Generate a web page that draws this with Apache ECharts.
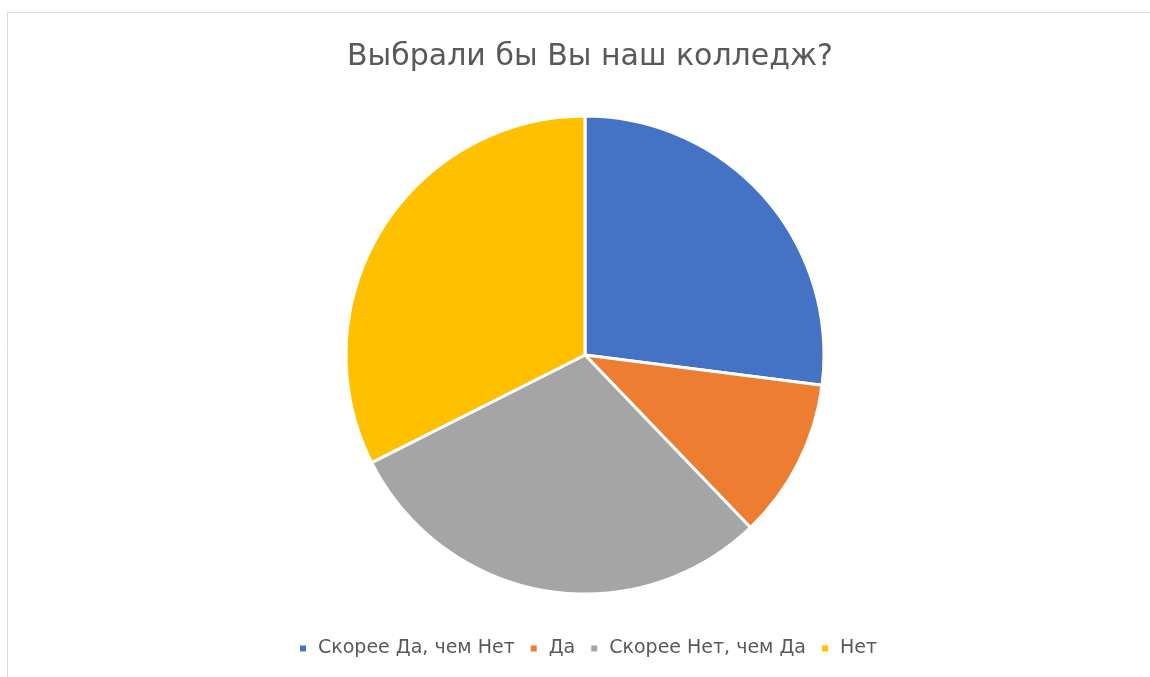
<!DOCTYPE html>
<html><head><meta charset="utf-8">
<script src="https://cdn.jsdelivr.net/npm/echarts@6/dist/echarts.min.js"></script>
<style>html,body{margin:0;padding:0;background:#fff}#c{width:1150px;height:677px}</style>
</head><body><div id="c"></div>
<script>
const categories = ['Скорее Да, чем Нет', 'Да', 'Скорее Нет, чем Да', 'Нет'];
const values = [10, 4, 11, 12];
const colors = ['#4472C4', '#ED7D31', '#A5A5A5', '#FFC000'];
const titleText = 'Выбрали бы Вы наш колледж?';

const chart = echarts.init(document.getElementById('c'));
chart.setOption({
  backgroundColor: '#fff',
  animation: false,
  graphic: [{
    type: 'rect', shape: {x: 7.5, y: 12.5, width: 1160, height: 700},
    style: {fill: 'none', stroke: '#d9d9d9', lineWidth: 1}, silent: true
  }],
  title: {
    text: titleText, left: 342, top: 37,
    textStyle: {fontFamily: 'DejaVu Sans', fontSize: 30, fontWeight: 'normal', color: '#595959'}
  },
  legend: {
    bottom: 14, left: 293, icon: 'rect', itemWidth: 8, itemHeight: 8, itemGap: 14,
    textStyle: {fontFamily: 'DejaVu Sans', fontSize: 19, color: '#595959', padding: [0, 0, 0, 6]},
    data: categories
  },
  series: [{
    type: 'pie', center: [585, 355], radius: 239, startAngle: 90, clockwise: true,
    label: {show: false}, labelLine: {show: false},
    itemStyle: {borderColor: '#fff', borderWidth: 3},
    data: categories.map((n, i) => ({name: n, value: values[i], itemStyle: {color: colors[i]}}))
  }]
});
</script></body></html>
